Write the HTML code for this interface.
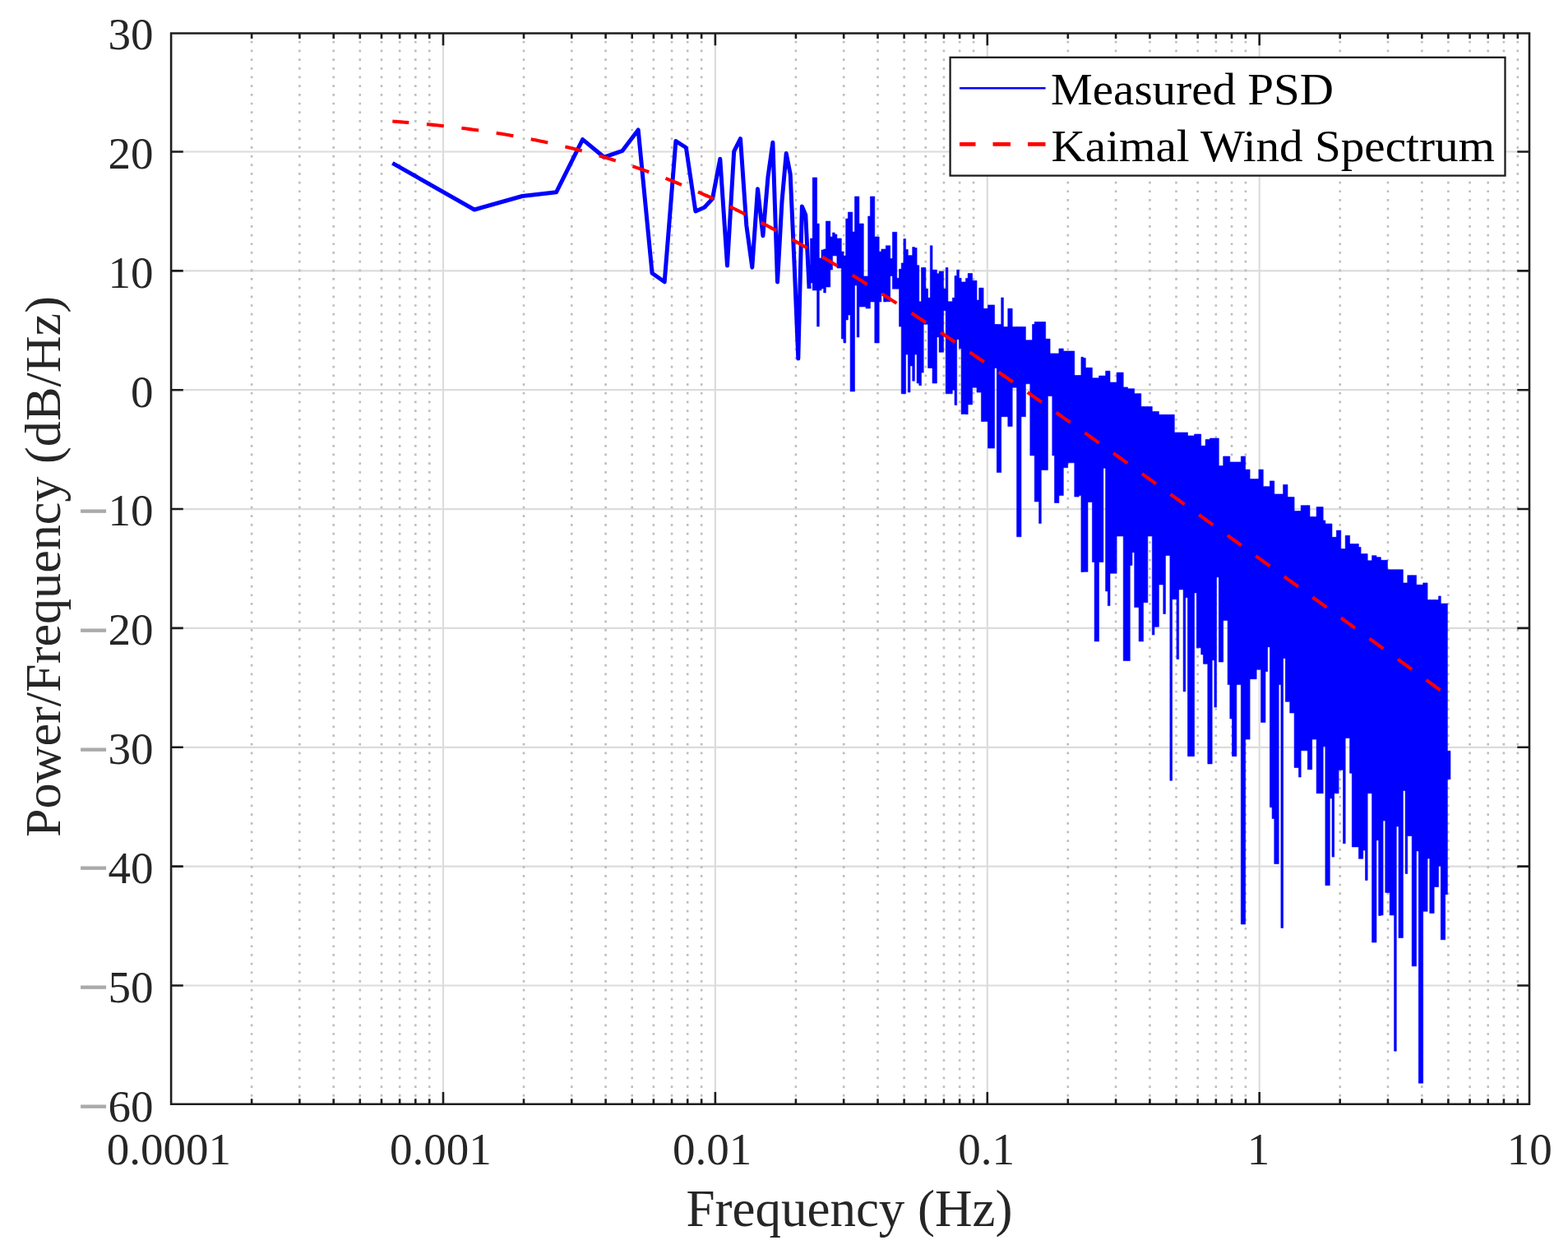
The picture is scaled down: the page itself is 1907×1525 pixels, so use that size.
<!DOCTYPE html><html><head><meta charset="utf-8"><title>PSD</title><style>html,body{margin:0;padding:0;background:#fff;overflow:hidden}body{width:1907px;height:1525px;position:relative}</style></head><body><svg width="1907" height="1525" viewBox="0 0 1907 1525" style="position:absolute;left:0;top:0">
<rect x="0" y="0" width="1907" height="1525" fill="#fff"/>
<path d="M208.1 1198.50H1860.0M208.1 1053.64H1860.0M208.1 908.78H1860.0M208.1 763.92H1860.0M208.1 619.06H1860.0M208.1 474.20H1860.0M208.1 329.34H1860.0M208.1 184.48H1860.0M539.00 40.5V1342.8M869.90 40.5V1342.8M1200.80 40.5V1342.8M1531.70 40.5V1342.8" stroke="#dcdcdc" stroke-width="2.2" fill="none"/>
<path d="M306.11 1342.8V40.5M364.38 1342.8V40.5M405.72 1342.8V40.5M437.79 1342.8V40.5M463.99 1342.8V40.5M486.14 1342.8V40.5M505.33 1342.8V40.5M522.26 1342.8V40.5M637.01 1342.8V40.5M695.28 1342.8V40.5M736.62 1342.8V40.5M768.69 1342.8V40.5M794.89 1342.8V40.5M817.04 1342.8V40.5M836.23 1342.8V40.5M853.16 1342.8V40.5M967.91 1342.8V40.5M1026.18 1342.8V40.5M1067.52 1342.8V40.5M1099.59 1342.8V40.5M1125.79 1342.8V40.5M1147.94 1342.8V40.5M1167.13 1342.8V40.5M1184.06 1342.8V40.5M1298.81 1342.8V40.5M1357.08 1342.8V40.5M1398.42 1342.8V40.5M1430.49 1342.8V40.5M1456.69 1342.8V40.5M1478.84 1342.8V40.5M1498.03 1342.8V40.5M1514.96 1342.8V40.5M1629.71 1342.8V40.5M1687.98 1342.8V40.5M1729.32 1342.8V40.5M1761.39 1342.8V40.5M1787.59 1342.8V40.5M1809.74 1342.8V40.5M1828.93 1342.8V40.5M1845.86 1342.8V40.5" stroke="#bdbdbd" stroke-width="2.6" stroke-dasharray="2.7 7.9745" stroke-dashoffset="-9.25" fill="none"/>
<clipPath id="c"><rect x="208.1" y="40.5" width="1651.9" height="1302.3"/></clipPath>
<g clip-path="url(#c)">
<path d="M477.3 198.4 576.9 255.0 635.2 238.5 676.5 233.8 708.6 169.6 734.8 191.2 757.0 183.3 776.2 158.0 793.1 332.3 808.2 342.8 821.9 171.6 834.4 179.5 845.9 257.0 856.6 252.3 866.5 241.8 875.8 193.3 884.5 323.1 892.7 184.1 900.5 168.7 907.8 274.0 914.8 325.2 921.5 229.7 927.9 286.8 934.0 215.0 939.9 173.2 945.5 343.0 951.0 245.0 956.2 186.5 961.2 212.0 966.1 322.0 970.8 436.1 975.4 250.9 979.8 261.5 984.1 351.0" stroke="#0000ff" stroke-width="5.0" fill="none" stroke-linejoin="round"/>
<path d="M985.0 322.0H985.5V351.0H985.0ZM985.5 290.0H988.2V344.0H985.5ZM988.2 216.0H993.6V353.0H988.2ZM993.6 272.0H996.3V397.0H993.6ZM996.3 314.0H999.0V353.0H996.3ZM999.0 304.0H1001.7V351.0H999.0ZM1001.7 303.0H1004.4V356.0H1001.7ZM1004.4 269.0H1009.8V349.0H1004.4ZM1009.8 288.0H1012.5V328.0H1009.8ZM1012.5 283.0H1015.2V311.0H1012.5ZM1015.2 285.0H1017.9V311.0H1015.2ZM1017.9 290.0H1023.3V326.0H1017.9ZM1023.3 306.0H1026.0V412.0H1023.3ZM1026.0 311.0H1028.7V417.0H1026.0ZM1028.7 266.0H1031.4V389.0H1028.7ZM1031.4 258.0H1034.1V383.0H1031.4ZM1034.1 258.0H1036.8V476.0H1034.1ZM1036.8 282.0H1039.5V476.0H1036.8ZM1039.5 239.0H1042.2V347.0H1039.5ZM1042.2 239.0H1044.9V410.0H1042.2ZM1044.9 272.0H1050.3V373.0H1044.9ZM1050.3 336.0H1053.0V373.0H1050.3ZM1053.0 336.0H1055.7V375.0H1053.0ZM1055.7 263.0H1058.4V375.0H1055.7ZM1058.4 239.0H1063.8V367.0H1058.4ZM1063.8 288.0H1069.2V417.0H1063.8ZM1069.2 306.0H1071.9V367.0H1069.2ZM1071.9 303.0H1074.6V357.0H1071.9ZM1074.6 303.0H1077.3V367.0H1074.6ZM1077.3 298.8H1082.7V366.8H1077.3ZM1082.7 314.4H1085.4V335.5H1082.7ZM1085.4 282.3H1090.8V351.2H1085.4ZM1090.8 338.3H1093.5V351.2H1090.8ZM1093.5 327.3H1096.2V397.1H1093.5ZM1096.2 319.9H1098.9V478.8H1096.2ZM1098.9 290.5H1101.6V478.8H1098.9ZM1101.6 303.4H1104.3V431.1H1101.6ZM1104.3 310.7H1107.0V477.0H1104.3ZM1107.0 310.7H1109.7V444.9H1107.0ZM1109.7 300.6H1112.4V463.2H1109.7ZM1112.4 301.5H1115.1V431.1H1112.4ZM1115.1 322.7H1117.8V466.0H1115.1ZM1117.8 366.8H1120.5V468.7H1117.8ZM1120.5 325.4H1123.2V453.1H1120.5ZM1123.2 325.4H1125.9V394.3H1123.2ZM1125.9 351.2H1128.6V394.3H1125.9ZM1128.6 362.2H1131.3V447.6H1128.6ZM1131.3 298.8H1134.0V447.6H1131.3ZM1134.0 328.2H1139.4V466.0H1134.0ZM1139.4 332.8H1142.1V409.9H1139.4ZM1142.1 330.0H1147.5V428.3H1142.1ZM1147.5 351.2H1150.2V377.8H1147.5ZM1150.2 325.4H1152.9V478.8H1150.2ZM1152.9 366.8H1158.3V478.8H1152.9ZM1158.3 362.2H1161.0V474.2H1158.3ZM1161.0 335.5H1163.7V492.6H1161.0ZM1163.7 328.2H1166.4V412.7H1163.7ZM1166.4 338.3H1169.1V423.7H1166.4ZM1169.1 342.9H1174.5V503.6H1169.1ZM1174.5 338.4H1177.2V503.7H1174.5ZM1177.2 332.5H1182.6V491.9H1177.2ZM1182.6 341.3H1188.0V471.2H1182.6ZM1188.0 365.0H1190.7V477.1H1188.0ZM1190.7 350.2H1193.4V477.1H1190.7ZM1193.4 350.2H1196.1V512.6H1193.4ZM1196.1 375.3H1201.5V512.6H1196.1ZM1201.5 370.9H1209.6V545.1H1201.5ZM1209.6 394.5H1212.3V447.6H1209.6ZM1212.3 394.5H1217.7V574.6H1212.3ZM1217.7 362.0H1220.4V506.7H1217.7ZM1220.4 397.4H1225.8V506.7H1220.4ZM1225.8 375.3H1231.2V518.5H1225.8ZM1231.2 397.4H1236.6V471.2H1231.2ZM1236.6 397.4H1242.0V652.8H1236.6ZM1242.0 397.4H1247.4V506.7H1242.0ZM1247.4 413.7H1252.8V466.8H1247.4ZM1252.8 413.7H1255.5V553.9H1252.8ZM1255.5 394.5H1258.2V553.9H1255.5ZM1258.2 391.5H1263.6V610.0H1258.2ZM1263.6 391.5H1266.3V636.6H1263.6ZM1266.3 391.5H1271.7V571.6H1266.3ZM1271.7 412.2H1274.4V571.6H1271.7ZM1274.4 412.2H1277.1V481.6H1274.4ZM1277.1 429.9H1279.8V481.6H1277.1ZM1279.8 429.9H1282.5V553.9H1279.8ZM1282.5 429.9H1287.9V611.5H1282.5ZM1287.9 424.0H1293.3V602.6H1287.9ZM1293.3 427.0H1298.7V568.7H1293.3ZM1298.7 427.0H1306.8V562.8H1298.7ZM1306.8 456.5H1312.2V604.1H1306.8ZM1312.2 456.5H1314.9V602.6H1312.2ZM1314.9 434.3H1317.6V695.6H1314.9ZM1317.6 435.4H1320.3V695.3H1317.6ZM1320.3 447.2H1323.0V695.3H1320.3ZM1323.0 447.2H1328.4V610.6H1323.0ZM1328.4 459.8H1331.1V683.5H1328.4ZM1331.1 459.8H1336.5V779.9H1331.1ZM1336.5 457.1H1341.9V683.5H1336.5ZM1341.9 457.1H1344.6V569.3H1341.9ZM1344.6 451.2H1347.3V718.9H1344.6ZM1347.3 451.2H1350.0V736.6H1347.3ZM1350.0 465.0H1358.1V697.2H1350.0ZM1358.1 453.1H1366.2V652.0H1358.1ZM1366.2 470.9H1371.6V803.5H1366.2ZM1371.6 472.8H1374.3V803.5H1371.6ZM1374.3 472.8H1377.0V687.4H1374.3ZM1377.0 472.8H1379.7V671.7H1377.0ZM1379.7 478.7H1385.1V738.6H1379.7ZM1385.1 478.7H1387.8V779.9H1385.1ZM1387.8 494.5H1390.5V779.9H1387.8ZM1390.5 494.5H1395.9V732.7H1390.5ZM1395.9 494.5H1401.3V652.0H1395.9ZM1401.3 500.4H1404.0V772.0H1401.3ZM1404.0 500.4H1409.4V762.2H1404.0ZM1409.4 504.3H1414.8V711.0H1409.4ZM1414.8 504.3H1417.5V746.5H1414.8ZM1417.5 504.3H1422.9V675.6H1417.5ZM1422.9 504.3H1425.6V949.2H1422.9ZM1425.6 504.3H1428.3V728.7H1425.6ZM1428.3 526.0H1431.0V728.7H1428.3ZM1431.0 526.0H1433.7V801.6H1431.0ZM1433.7 526.0H1439.1V716.9H1433.7ZM1439.1 526.0H1441.8V840.9H1439.1ZM1441.8 526.0H1444.5V726.8H1441.8ZM1444.5 529.9H1452.6V919.7H1444.5ZM1452.6 528.0H1455.3V720.9H1452.6ZM1455.3 528.0H1460.7V787.8H1455.3ZM1460.7 542.2H1463.4V795.9H1460.7ZM1463.4 542.2H1466.1V807.3H1463.4ZM1466.1 534.4H1468.8V807.3H1466.1ZM1468.8 534.4H1471.5V928.9H1468.8ZM1471.5 533.0H1474.2V928.9H1471.5ZM1474.2 533.0H1476.9V802.8H1474.2ZM1476.9 533.0H1479.6V860.1H1476.9ZM1479.6 533.0H1482.3V701.8H1479.6ZM1482.3 566.5H1487.7V805.0H1482.3ZM1487.7 555.0H1493.1V754.6H1487.7ZM1493.1 555.0H1495.8V832.6H1493.1ZM1495.8 561.9H1498.5V873.9H1495.8ZM1498.5 561.9H1503.9V919.7H1498.5ZM1503.9 561.9H1509.3V832.6H1503.9ZM1509.3 555.0H1514.7V1123.9H1509.3ZM1514.7 571.1H1520.1V899.1H1514.7ZM1520.1 582.6H1528.2V825.7H1520.1ZM1528.2 582.6H1530.9V814.2H1528.2ZM1530.9 571.1H1533.6V814.2H1530.9ZM1533.6 571.1H1536.3V878.4H1533.6ZM1536.3 591.7H1539.0V878.4H1536.3ZM1539.0 591.7H1541.7V816.5H1539.0ZM1541.7 591.7H1544.4V786.7H1541.7ZM1544.4 584.9H1547.1V981.7H1544.4ZM1547.1 584.9H1549.8V995.4H1547.1ZM1549.8 600.9H1555.2V1050.5H1549.8ZM1555.2 600.9H1557.9V832.6H1555.2ZM1557.9 600.9H1560.6V1128.4H1557.9ZM1560.6 589.4H1563.3V800.5H1560.6ZM1563.3 589.4H1566.0V853.2H1563.3ZM1566.0 604.6H1568.7V853.2H1566.0ZM1568.7 604.6H1574.1V867.0H1568.7ZM1574.1 621.6H1579.5V933.5H1574.1ZM1579.5 621.6H1582.2V945.0H1579.5ZM1582.2 614.7H1590.3V912.8H1582.2ZM1590.3 614.7H1593.0V935.8H1590.3ZM1593.0 628.4H1595.7V935.8H1593.0ZM1595.7 628.4H1601.1V899.1H1595.7ZM1601.1 616.6H1609.2V964.8H1601.1ZM1609.2 632.9H1611.9V907.8H1609.2ZM1611.9 637.0H1617.3V1076.7H1611.9ZM1617.3 637.0H1620.0V970.9H1617.3ZM1620.0 653.3H1622.7V1042.1H1620.0ZM1622.7 653.3H1625.4V964.8H1622.7ZM1625.4 645.1H1628.1V964.8H1625.4ZM1628.1 645.1H1630.8V936.3H1628.1ZM1630.8 667.5H1633.5V936.3H1630.8ZM1633.5 667.5H1636.2V1025.8H1633.5ZM1636.2 651.3H1641.6V897.6H1636.2ZM1641.6 661.4H1644.3V940.3H1641.6ZM1644.3 661.4H1652.4V1029.9H1644.3ZM1652.4 665.5H1655.1V1044.2H1652.4ZM1655.1 673.6H1657.8V1044.2H1655.1ZM1657.8 673.6H1660.5V1034.0H1657.8ZM1660.5 673.6H1663.2V1070.6H1660.5ZM1663.2 681.8H1668.6V964.8H1663.2ZM1668.6 675.7H1674.0V1146.0H1668.6ZM1674.0 677.7H1676.7V1021.8H1674.0ZM1676.7 677.7H1679.4V1113.4H1676.7ZM1679.4 681.3H1682.1V1112.9H1679.4ZM1682.1 681.3H1684.8V998.1H1682.1ZM1684.8 681.3H1687.5V1085.4H1684.8ZM1687.5 692.8H1690.2V1085.4H1687.5ZM1690.2 692.8H1695.6V1112.9H1690.2ZM1695.6 692.8H1698.3V1278.2H1695.6ZM1698.3 692.8H1701.0V1005.0H1698.3ZM1701.0 692.8H1706.4V1140.5H1701.0ZM1706.4 708.9H1709.1V961.4H1706.4ZM1709.1 708.9H1711.8V1062.4H1709.1ZM1711.8 699.7H1717.2V1016.5H1711.8ZM1717.2 699.7H1722.6V1174.9H1717.2ZM1722.6 711.2H1725.3V1034.9H1722.6ZM1725.3 711.2H1730.7V1317.2H1725.3ZM1730.7 708.9H1736.1V1108.3H1730.7ZM1736.1 729.5H1738.8V1044.0H1736.1ZM1738.8 729.5H1744.2V1110.6H1738.8ZM1744.2 729.5H1749.6V1078.5H1744.2ZM1749.6 724.9H1752.3V1053.2H1749.6ZM1752.3 734.1H1757.7V1142.8H1752.3ZM1757.7 734.1H1760.4V1087.7H1757.7ZM1760.4 913.2H1764.0V947.6H1760.4Z" fill="#0000ff" stroke="#0000ff" stroke-width="0.6"/>
<path d="M477.3 147.53 479.5 147.69 481.6 147.86 483.8 148.03 485.9 148.20 488.1 148.37 490.2 148.54 492.3 148.72 494.5 148.90 496.6 149.08 498.8 149.26 500.9 149.45 503.1 149.63 505.2 149.83 507.4 150.02 509.5 150.21 511.7 150.41 513.8 150.61 516.0 150.82 518.1 151.02 520.3 151.23 522.4 151.44 524.5 151.66 526.7 151.88 528.8 152.10 531.0 152.32 533.1 152.54 535.3 152.77 537.4 153.00 539.6 153.24 541.7 153.48 543.9 153.72 546.0 153.96 548.2 154.21 550.3 154.46 552.4 154.71 554.6 154.97 556.7 155.23 558.9 155.49 561.0 155.75 563.2 156.02 565.3 156.30 567.5 156.57 569.6 156.85 571.8 157.13 573.9 157.42 576.1 157.71 578.2 158.00 580.3 158.30 582.5 158.60 584.6 158.90 586.8 159.21 588.9 159.52 591.1 159.84 593.2 160.16 595.4 160.48 597.5 160.81 599.7 161.14 601.8 161.47 604.0 161.81 606.1 162.15 608.3 162.50 610.4 162.85 612.5 163.20 614.7 163.56 616.8 163.93 619.0 164.29 621.1 164.66 623.3 165.04 625.4 165.42 627.6 165.80 629.7 166.19 631.9 166.58 634.0 166.98 636.2 167.38 638.3 167.79 640.4 168.20 642.6 168.61 644.7 169.03 646.9 169.46 649.0 169.89 651.2 170.32 653.3 170.76 655.5 171.20 657.6 171.65 659.8 172.10 661.9 172.56 664.1 173.02 666.2 173.49 668.3 173.96 670.5 174.44 672.6 174.92 674.8 175.41 676.9 175.90 679.1 176.40 681.2 176.90 683.4 177.40 685.5 177.92 687.7 178.43 689.8 178.96 692.0 179.49 694.1 180.02 696.3 180.56 698.4 181.10 700.5 181.65 702.7 182.20 704.8 182.76 707.0 183.33 709.1 183.90 711.3 184.48 713.4 185.06 715.6 185.64 717.7 186.24 719.9 186.83 722.0 187.44 724.2 188.05 726.3 188.66 728.4 189.28 730.6 189.91 732.7 190.54 734.9 191.17 737.0 191.82 739.2 192.47 741.3 193.12 743.5 193.78 745.6 194.44 747.8 195.12 749.9 195.79 752.1 196.47 754.2 197.16 756.3 197.86 758.5 198.56 760.6 199.26 762.8 199.97 764.9 200.69 767.1 201.41 769.2 202.14 771.4 202.88 773.5 203.62 775.7 204.36 777.8 205.12 780.0 205.87 782.1 206.64 784.3 207.41 786.4 208.18 788.5 208.96 790.7 209.75 792.8 210.55 795.0 211.34 797.1 212.15 799.3 212.96 801.4 213.78 803.6 214.60 805.7 215.43 807.9 216.26 810.0 217.10 812.2 217.95 814.3 218.80 816.4 219.65 818.6 220.52 820.7 221.39 822.9 222.26 825.0 223.14 827.2 224.03 829.3 224.92 831.5 225.82 833.6 226.72 835.8 227.63 837.9 228.54 840.1 229.46 842.2 230.39 844.3 231.32 846.5 232.26 848.6 233.20 850.8 234.15 852.9 235.10 855.1 236.06 857.2 237.03 859.4 238.00 861.5 238.97 863.7 239.96 865.8 240.94 868.0 241.94 870.1 242.93 872.3 243.94 874.4 244.95 876.5 245.96 878.7 246.98 880.8 248.00 883.0 249.03 885.1 250.07 887.3 251.11 889.4 252.15 891.6 253.21 893.7 254.26 895.9 255.32 898.0 256.39 900.2 257.46 902.3 258.54 904.4 259.62 906.6 260.70 908.7 261.80 910.9 262.89 913.0 263.99 915.2 265.10 917.3 266.21 919.5 267.32 921.6 268.45 923.8 269.57 925.9 270.70 928.1 271.83 930.2 272.97 932.4 274.12 934.5 275.27 936.6 276.42 938.8 277.58 940.9 278.74 943.1 279.90 945.2 281.08 947.4 282.25 949.5 283.43 951.7 284.61 953.8 285.80 956.0 287.00 958.1 288.19 960.3 289.39 962.4 290.60 964.5 291.81 966.7 293.02 968.8 294.24 971.0 295.46 973.1 296.68 975.3 297.91 977.4 299.15 979.6 300.38 981.7 301.63 983.9 302.87 986.0 304.12 988.2 305.37 990.3 306.63 992.4 307.89 994.6 309.15 996.7 310.42 998.9 311.69 1001.0 312.96 1003.2 314.24 1005.3 315.52 1007.5 316.81 1009.6 318.10 1011.8 319.39 1013.9 320.68 1016.1 321.98 1018.2 323.28 1020.4 324.59 1022.5 325.90 1024.6 327.21 1026.8 328.52 1028.9 329.84 1031.1 331.16 1033.2 332.48 1035.4 333.81 1037.5 335.14 1039.7 336.47 1041.8 337.81 1044.0 339.15 1046.1 340.49 1048.3 341.83 1050.4 343.18 1052.5 344.53 1054.7 345.88 1056.8 347.24 1059.0 348.60 1061.1 349.96 1063.3 351.32 1065.4 352.69 1067.6 354.06 1069.7 355.43 1071.9 356.80 1074.0 358.18 1076.2 359.56 1078.3 360.94 1080.4 362.32 1082.6 363.71 1084.7 365.10 1086.9 366.49 1089.0 367.88 1091.2 369.28 1093.3 370.68 1095.5 372.07 1097.6 373.48 1099.8 374.88 1101.9 376.29 1104.1 377.70 1106.2 379.11 1108.4 380.52 1110.5 381.93 1112.6 383.35 1114.8 384.77 1116.9 386.19 1119.1 387.61 1121.2 389.04 1123.4 390.47 1125.5 391.89 1127.7 393.32 1129.8 394.76 1132.0 396.19 1134.1 397.63 1136.3 399.06 1138.4 400.50 1140.5 401.94 1142.7 403.39 1144.8 404.83 1147.0 406.28 1149.1 407.73 1151.3 409.18 1153.4 410.63 1155.6 412.08 1157.7 413.53 1159.9 414.99 1162.0 416.45 1164.2 417.90 1166.3 419.36 1168.4 420.83 1170.6 422.29 1172.7 423.75 1174.9 425.22 1177.0 426.69 1179.2 428.16 1181.3 429.63 1183.5 431.10 1185.6 432.57 1187.8 434.04 1189.9 435.52 1192.1 437.00 1194.2 438.47 1196.4 439.95 1198.5 441.43 1200.6 442.91 1202.8 444.40 1204.9 445.88 1207.1 447.37 1209.2 448.85 1211.4 450.34 1213.5 451.83 1215.7 453.32 1217.8 454.81 1220.0 456.30 1222.1 457.79 1224.3 459.29 1226.4 460.78 1228.5 462.28 1230.7 463.77 1232.8 465.27 1235.0 466.77 1237.1 468.27 1239.3 469.77 1241.4 471.27 1243.6 472.77 1245.7 474.28 1247.9 475.78 1250.0 477.29 1252.2 478.79 1254.3 480.30 1256.4 481.81 1258.6 483.32 1260.7 484.82 1262.9 486.34 1265.0 487.85 1267.2 489.36 1269.3 490.87 1271.5 492.38 1273.6 493.90 1275.8 495.41 1277.9 496.93 1280.1 498.44 1282.2 499.96 1284.4 501.48 1286.5 503.00 1288.6 504.52 1290.8 506.04 1292.9 507.56 1295.1 509.08 1297.2 510.60 1299.4 512.12 1301.5 513.64 1303.7 515.17 1305.8 516.69 1308.0 518.22 1310.1 519.74 1312.3 521.27 1314.4 522.79 1316.5 524.32 1318.7 525.85 1320.8 527.38 1323.0 528.91 1325.1 530.44 1327.3 531.97 1329.4 533.50 1331.6 535.03 1333.7 536.56 1335.9 538.09 1338.0 539.62 1340.2 541.16 1342.3 542.69 1344.5 544.22 1346.6 545.76 1348.7 547.29 1350.9 548.83 1353.0 550.36 1355.2 551.90 1357.3 553.44 1359.5 554.97 1361.6 556.51 1363.8 558.05 1365.9 559.59 1368.1 561.12 1370.2 562.66 1372.4 564.20 1374.5 565.74 1376.6 567.28 1378.8 568.82 1380.9 570.36 1383.1 571.91 1385.2 573.45 1387.4 574.99 1389.5 576.53 1391.7 578.08 1393.8 579.62 1396.0 581.16 1398.1 582.71 1400.3 584.25 1402.4 585.79 1404.5 587.34 1406.7 588.88 1408.8 590.43 1411.0 591.97 1413.1 593.52 1415.3 595.07 1417.4 596.61 1419.6 598.16 1421.7 599.71 1423.9 601.25 1426.0 602.80 1428.2 604.35 1430.3 605.90 1432.5 607.45 1434.6 609.00 1436.7 610.54 1438.9 612.09 1441.0 613.64 1443.2 615.19 1445.3 616.74 1447.5 618.29 1449.6 619.84 1451.8 621.39 1453.9 622.94 1456.1 624.50 1458.2 626.05 1460.4 627.60 1462.5 629.15 1464.6 630.70 1466.8 632.25 1468.9 633.81 1471.1 635.36 1473.2 636.91 1475.4 638.46 1477.5 640.02 1479.7 641.57 1481.8 643.12 1484.0 644.68 1486.1 646.23 1488.3 647.79 1490.4 649.34 1492.5 650.89 1494.7 652.45 1496.8 654.00 1499.0 655.56 1501.1 657.11 1503.3 658.67 1505.4 660.22 1507.6 661.78 1509.7 663.34 1511.9 664.89 1514.0 666.45 1516.2 668.00 1518.3 669.56 1520.5 671.12 1522.6 672.67 1524.7 674.23 1526.9 675.79 1529.0 677.34 1531.2 678.90 1533.3 680.46 1535.5 682.02 1537.6 683.57 1539.8 685.13 1541.9 686.69 1544.1 688.25 1546.2 689.80 1548.4 691.36 1550.5 692.92 1552.6 694.48 1554.8 696.04 1556.9 697.60 1559.1 699.15 1561.2 700.71 1563.4 702.27 1565.5 703.83 1567.7 705.39 1569.8 706.95 1572.0 708.51 1574.1 710.07 1576.3 711.63 1578.4 713.19 1580.5 714.75 1582.7 716.31 1584.8 717.87 1587.0 719.43 1589.1 720.99 1591.3 722.55 1593.4 724.11 1595.6 725.67 1597.7 727.23 1599.9 728.79 1602.0 730.35 1604.2 731.91 1606.3 733.47 1608.5 735.03 1610.6 736.59 1612.7 738.15 1614.9 739.71 1617.0 741.28 1619.2 742.84 1621.3 744.40 1623.5 745.96 1625.6 747.52 1627.8 749.08 1629.9 750.64 1632.1 752.21 1634.2 753.77 1636.4 755.33 1638.5 756.89 1640.6 758.45 1642.8 760.01 1644.9 761.58 1647.1 763.14 1649.2 764.70 1651.4 766.26 1653.5 767.82 1655.7 769.39 1657.8 770.95 1660.0 772.51 1662.1 774.07 1664.3 775.64 1666.4 777.20 1668.5 778.76 1670.7 780.32 1672.8 781.89 1675.0 783.45 1677.1 785.01 1679.3 786.58 1681.4 788.14 1683.6 789.70 1685.7 791.26 1687.9 792.83 1690.0 794.39 1692.2 795.95 1694.3 797.52 1696.5 799.08 1698.6 800.64 1700.7 802.21 1702.9 803.77 1705.0 805.33 1707.2 806.90 1709.3 808.46 1711.5 810.02 1713.6 811.59 1715.8 813.15 1717.9 814.71 1720.1 816.28 1722.2 817.84 1724.4 819.41 1726.5 820.97 1728.6 822.53 1730.8 824.10 1732.9 825.66 1735.1 827.22 1737.2 828.79 1739.4 830.35 1741.5 831.92 1743.7 833.48 1745.8 835.04 1748.0 836.61 1750.1 838.17 1752.3 839.74 1754.4 841.30 1756.6 842.86 1758.7 844.43 1760.8 845.99 1763.0 847.56" stroke="#ff0000" stroke-width="4.1" fill="none" stroke-dasharray="21 21.71" stroke-dashoffset="0.94"/>
</g>
<path d="M208.1 40.5H1860.0V1342.8H208.1Z" stroke="#1e1e1e" stroke-width="2.6" fill="none"/>
<path d="M208.1 1198.50h14.7M1860.0 1198.50h-14.7M208.1 1053.64h14.7M1860.0 1053.64h-14.7M208.1 908.78h14.7M1860.0 908.78h-14.7M208.1 763.92h14.7M1860.0 763.92h-14.7M208.1 619.06h14.7M1860.0 619.06h-14.7M208.1 474.20h14.7M1860.0 474.20h-14.7M208.1 329.34h14.7M1860.0 329.34h-14.7M208.1 184.48h14.7M1860.0 184.48h-14.7M539.00 1342.8v-14.7M539.00 40.5v14.7M869.90 1342.8v-14.7M869.90 40.5v14.7M1200.80 1342.8v-14.7M1200.80 40.5v14.7M1531.70 1342.8v-14.7M1531.70 40.5v14.7M306.11 1342.8v-6.6M306.11 40.5v6.6M364.38 1342.8v-6.6M364.38 40.5v6.6M405.72 1342.8v-6.6M405.72 40.5v6.6M437.79 1342.8v-6.6M437.79 40.5v6.6M463.99 1342.8v-6.6M463.99 40.5v6.6M486.14 1342.8v-6.6M486.14 40.5v6.6M505.33 1342.8v-6.6M505.33 40.5v6.6M522.26 1342.8v-6.6M522.26 40.5v6.6M637.01 1342.8v-6.6M637.01 40.5v6.6M695.28 1342.8v-6.6M695.28 40.5v6.6M736.62 1342.8v-6.6M736.62 40.5v6.6M768.69 1342.8v-6.6M768.69 40.5v6.6M794.89 1342.8v-6.6M794.89 40.5v6.6M817.04 1342.8v-6.6M817.04 40.5v6.6M836.23 1342.8v-6.6M836.23 40.5v6.6M853.16 1342.8v-6.6M853.16 40.5v6.6M967.91 1342.8v-6.6M967.91 40.5v6.6M1026.18 1342.8v-6.6M1026.18 40.5v6.6M1067.52 1342.8v-6.6M1067.52 40.5v6.6M1099.59 1342.8v-6.6M1099.59 40.5v6.6M1125.79 1342.8v-6.6M1125.79 40.5v6.6M1147.94 1342.8v-6.6M1147.94 40.5v6.6M1167.13 1342.8v-6.6M1167.13 40.5v6.6M1184.06 1342.8v-6.6M1184.06 40.5v6.6M1298.81 1342.8v-6.6M1298.81 40.5v6.6M1357.08 1342.8v-6.6M1357.08 40.5v6.6M1398.42 1342.8v-6.6M1398.42 40.5v6.6M1430.49 1342.8v-6.6M1430.49 40.5v6.6M1456.69 1342.8v-6.6M1456.69 40.5v6.6M1478.84 1342.8v-6.6M1478.84 40.5v6.6M1498.03 1342.8v-6.6M1498.03 40.5v6.6M1514.96 1342.8v-6.6M1514.96 40.5v6.6M1629.71 1342.8v-6.6M1629.71 40.5v6.6M1687.98 1342.8v-6.6M1687.98 40.5v6.6M1729.32 1342.8v-6.6M1729.32 40.5v6.6M1761.39 1342.8v-6.6M1761.39 40.5v6.6M1787.59 1342.8v-6.6M1787.59 40.5v6.6M1809.74 1342.8v-6.6M1809.74 40.5v6.6M1828.93 1342.8v-6.6M1828.93 40.5v6.6M1845.86 1342.8v-6.6M1845.86 40.5v6.6" stroke="#1e1e1e" stroke-width="2.6" fill="none"/>
<g style="font-family:'Liberation Serif','Times New Roman',serif;font-size:55px" fill="#262626"><text x="186.5" y="1363.7" text-anchor="end"><tspan fill="#aaaaaa" stroke="#aaaaaa" stroke-width="1.2" font-size="64px" dy="3.5">−</tspan><tspan dy="-3.5">60</tspan></text><text x="186.5" y="1218.8" text-anchor="end"><tspan fill="#aaaaaa" stroke="#aaaaaa" stroke-width="1.2" font-size="64px" dy="3.5">−</tspan><tspan dy="-3.5">50</tspan></text><text x="186.5" y="1073.9" text-anchor="end"><tspan fill="#aaaaaa" stroke="#aaaaaa" stroke-width="1.2" font-size="64px" dy="3.5">−</tspan><tspan dy="-3.5">40</tspan></text><text x="186.5" y="929.1" text-anchor="end"><tspan fill="#aaaaaa" stroke="#aaaaaa" stroke-width="1.2" font-size="64px" dy="3.5">−</tspan><tspan dy="-3.5">30</tspan></text><text x="186.5" y="784.2" text-anchor="end"><tspan fill="#aaaaaa" stroke="#aaaaaa" stroke-width="1.2" font-size="64px" dy="3.5">−</tspan><tspan dy="-3.5">20</tspan></text><text x="186.5" y="639.4" text-anchor="end"><tspan fill="#aaaaaa" stroke="#aaaaaa" stroke-width="1.2" font-size="64px" dy="3.5">−</tspan><tspan dy="-3.5">10</tspan></text><text x="186.5" y="494.5" text-anchor="end">0</text><text x="186.5" y="349.6" text-anchor="end">10</text><text x="186.5" y="204.8" text-anchor="end">20</text><text x="186.5" y="59.9" text-anchor="end">30</text><text x="129.8" y="1415.6">0.0001</text><text x="473.9" y="1415.6">0.001</text><text x="818.1" y="1415.6">0.01</text><text x="1165.3" y="1415.6">0.1</text><text x="1516.7" y="1415.6">1</text><text x="1832.8" y="1415.6">10</text></g>
<text x="1033" y="1491" text-anchor="middle" style="font-family:'Liberation Serif','Times New Roman',serif;font-size:63px" fill="#262626">Frequency (Hz)</text>
<text transform="translate(72.5 689.1) rotate(-90)" x="0" y="0" text-anchor="middle" style="font-family:'Liberation Serif','Times New Roman',serif;font-size:62.2px" fill="#262626">Power/Frequency (dB/Hz)</text>
<rect x="1155.6" y="69.8" width="674.9" height="143.8" fill="#fff" stroke="#1e1e1e" stroke-width="2.3"/>
<path d="M1167 107.3H1271.6" stroke="#0000ff" stroke-width="2.4"/>
<path d="M1167 175.3H1271.6" stroke="#ff0000" stroke-width="4.8" stroke-dasharray="19.5 21 21.5 21 21.5 21"/>
<g style="font-family:'Liberation Serif','Times New Roman',serif;font-size:55.5px" fill="#000"><text x="1278" y="126.8" textLength="344" lengthAdjust="spacingAndGlyphs">Measured PSD</text><text x="1278.5" y="196.4" textLength="539.5" lengthAdjust="spacingAndGlyphs">Kaimal Wind Spectrum</text></g>
</svg></body></html>
